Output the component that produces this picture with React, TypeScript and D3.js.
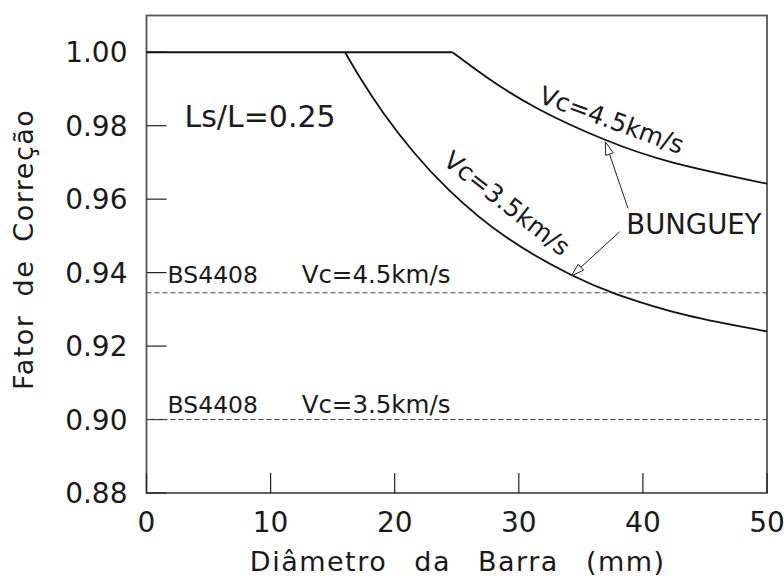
import React from "react";
import * as d3 from "d3";

// curves: diametro (mm) vs fator de correcao
const dia35 = [16.0, 17.2, 19.1, 21.5, 24.4, 29.0, 34.2, 37.9, 43.5, 50];
const fat35 = [1.0, 0.9931, 0.9834, 0.9729, 0.9624, 0.9496, 0.9394, 0.9341, 0.9284, 0.924];
const dia45 = [24.65, 27.5, 31.5, 37.0, 42.5, 50];
const fat45 = [1.0, 0.993, 0.9847, 0.9761, 0.9699, 0.9642];
// BS4408 constant values
const bs45 = 0.9345;
const bs35 = 0.9;

const xTicks = [0, 10, 20, 30, 40, 50];
const yTicks = [0.88, 0.9, 0.92, 0.94, 0.96, 0.98, 1.0];

const W = 784,
  H = 579;
const margin = { top: 15.5, right: 17, bottom: 86, left: 146.5 };
const FONT = "'DejaVu Sans', sans-serif";
const INK = "#1a1a1a";

function ArrowHead({ x1, y1, x2, y2 }: { x1: number; y1: number; x2: number; y2: number }) {
  // open triangle at (x2,y2) pointing from (x1,y1)
  const a = Math.atan2(y2 - y1, x2 - x1);
  const len = 13,
    half = 4;
  const bx = x2 - len * Math.cos(a),
    by = y2 - len * Math.sin(a);
  const px = -Math.sin(a) * half,
    py = Math.cos(a) * half;
  const d = `M${x2},${y2}L${bx + px},${by + py}L${bx - px},${by - py}Z`;
  return (
    <g>
      <line x1={x1} y1={y1} x2={bx} y2={by} stroke="#222" strokeWidth={1} />
      <path d={d} fill="white" stroke="#222" strokeWidth={1} />
    </g>
  );
}

export default function App() {
  const x = d3.scaleLinear().domain([0, 50]).range([margin.left, W - margin.right]);
  const y = d3.scaleLinear().domain([0.88, 1.01]).range([H - margin.bottom, margin.top]);

  const line = d3
    .line<[number, number]>()
    .x((d) => x(d[0]))
    .y((d) => y(d[1]))
    .curve(d3.curveNatural);

  const c35 = dia35.map((d, i) => [d, fat35[i]] as [number, number]);
  const c45 = dia45.map((d, i) => [d, fat45[i]] as [number, number]);
  const flat = d3.line<[number, number]>().x((d) => x(d[0])).y((d) => y(d[1]))([
    [0, 1.0],
    [dia45[0], 1.0],
  ]);

  // values on the curves at the arrow tips
  const interp45 = d3.scaleLinear().domain(dia45).range(fat45);
  const interp35 = d3.scaleLinear().domain(dia35).range(fat35);

  const x0 = x(0),
    x1 = x(50),
    yb = y(0.88),
    yt = y(1.01);

  return (
    <div style={{ position: "absolute", left: 0, top: 0 }}>
      <svg width={W} height={H} style={{ display: "block", background: "white" }}>
        {/* frame */}
        <rect x={x0} y={yt} width={x1 - x0} height={yb - yt} fill="none" stroke="#555" strokeWidth={1.8} />

        {/* y ticks (inward) */}
        {yTicks.map((t) => (
          <g key={"y" + t}>
            <line x1={x0} x2={x0 + 20} y1={y(t)} y2={y(t)} stroke="#222" strokeWidth={1.2} />
            <text x={x0 - 19} y={y(t)} dy="0.36em" textAnchor="end" fontFamily={FONT} fontSize={28} fill={INK}>
              {t.toFixed(2)}
            </text>
          </g>
        ))}
        {/* x ticks (inward) */}
        {xTicks.map((t) => (
          <g key={"x" + t}>
            <line x1={x(t)} x2={x(t)} y1={yb} y2={yb - 20} stroke="#222" strokeWidth={1.2} />
            <text x={x(t)} y={yb + 39} textAnchor="middle" fontFamily={FONT} fontSize={28} fill={INK}>
              {t}
            </text>
          </g>
        ))}

        {/* axis titles */}
        <text
          x={(x0 + x1) / 2 + 1}
          y={571}
          textAnchor="middle"
          fontFamily={FONT}
          fontSize={27}
          fill={INK}
          letterSpacing={1.5}
          wordSpacing={17}
        >
          Diâmetro da Barra (mm)
        </text>
        <text
          transform={`translate(33,${(yb + yt) / 2 - 5}) rotate(-90)`}
          textAnchor="middle"
          fontFamily={FONT}
          fontSize={27}
          fill={INK}
          letterSpacing={1.5}
          wordSpacing={8}
        >
          Fator de Correção
        </text>

        {/* BS4408 dashed lines */}
        {[bs45, bs35].map((v) => (
          <line key={"bs" + v} x1={x0} x2={x1} y1={y(v)} y2={y(v)} stroke="#444" strokeWidth={1.1} strokeDasharray="5,3" />
        ))}
        <text x={x(1.7)} y={y(0.9373)} fontFamily={FONT} fontSize={23.5} fill={INK}>BS4408</text>
        <text x={x(12.5)} y={y(0.9373)} fontFamily={FONT} fontSize={24.5} fill={INK}>Vc=4.5km/s</text>
        <text x={x(1.7)} y={y(0.9018)} fontFamily={FONT} fontSize={23.5} fill={INK}>BS4408</text>
        <text x={x(12.5)} y={y(0.9018)} fontFamily={FONT} fontSize={24.5} fill={INK}>Vc=3.5km/s</text>

        {/* Bungey curves */}
        <path d={flat ?? ""} fill="none" stroke="#111" strokeWidth={1.8} />
        <path d={line(c35) ?? ""} fill="none" stroke="#111" strokeWidth={1.8} />
        <path d={line(c45) ?? ""} fill="none" stroke="#111" strokeWidth={1.8} />

        <text
          transform={`translate(${x(31.5)},${y(0.9864)}) rotate(20)`}
          fontFamily={FONT}
          fontSize={25}
          fill={INK}
        >
          Vc=4.5km/s
        </text>
        <text
          transform={`translate(${x(23.8)},${y(0.9697)}) rotate(38)`}
          fontFamily={FONT}
          fontSize={25}
          fill={INK}
        >
          Vc=3.5km/s
        </text>

        <text x={x(0.0) + 38} y={y(0.9797)} fontFamily={FONT} fontSize={30} fill={INK}>
          Ls/L=0.25
        </text>

        {/* BUNGUEY annotation */}
        <text x={x(38.66)} y={y(0.9505)} fontFamily={FONT} fontSize={27.5} fill={INK}>
          BUNGUEY
        </text>
        <ArrowHead x1={x(38.8)} y1={y(0.9575)} x2={x(36.97)} y2={y(interp45(36.97)) + 2} />
        <ArrowHead x1={x(38.12)} y1={y(0.9511)} x2={x(34.23)} y2={y(interp35(34.23)) + 1} />
      </svg>
    </div>
  );
}
